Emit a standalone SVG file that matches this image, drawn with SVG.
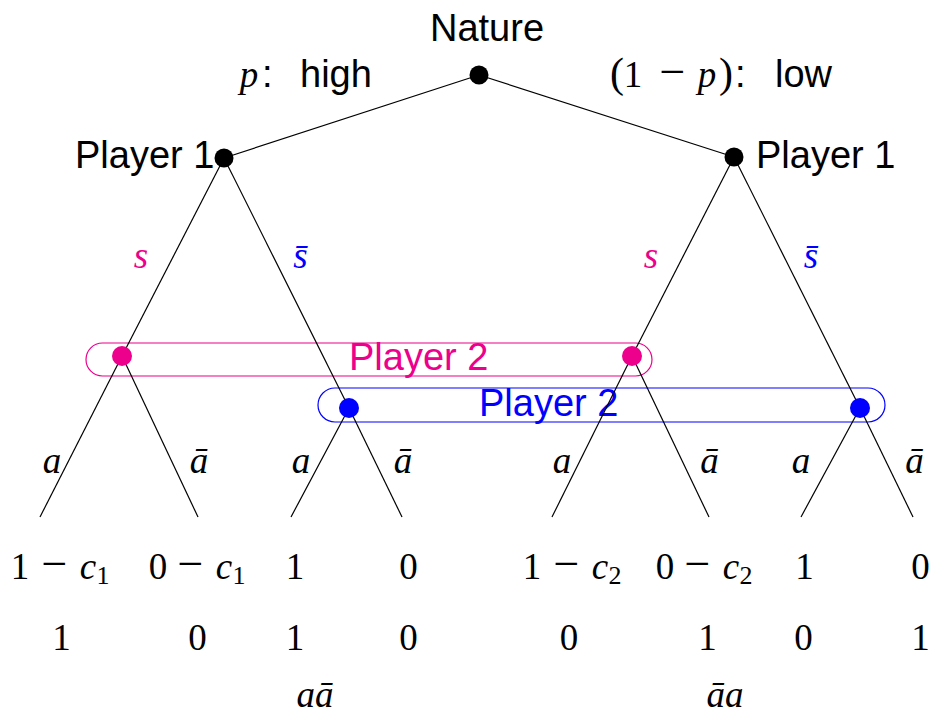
<svg xmlns="http://www.w3.org/2000/svg" width="930" height="716" viewBox="0 0 930 716">
<style>
.sans{font-family:"Liberation Sans","DejaVu Sans",sans-serif;font-size:38px;fill:#000}
.m{font-family:"Liberation Serif","DejaVu Serif",serif;font-size:37px;fill:#000}
.i{font-style:italic}
.sub{font-size:26px}
.op{font-size:46px}
.par{font-size:42px}
.edge{stroke:#000;stroke-width:1.2;fill:none}
.pink{fill:#EC008C}
.blue{fill:#0000FF}
.c{text-anchor:middle}
</style>
<rect width="930" height="716" fill="#fff"/>
<g id="infosets">
<rect x="86" y="343" width="566" height="33" rx="16.5" fill="none" stroke="#EC008C" stroke-width="1.2"/>
<rect x="318" y="388" width="567" height="34" rx="17" fill="none" stroke="#0000FF" stroke-width="1.2"/>
<text class="sans pink" x="349" y="370">Player 2</text>
<text class="sans blue" x="479" y="416">Player 2</text>
</g>
<g id="connectors" class="edge">
<line x1="479" y1="75" x2="224" y2="158"/>
<line x1="479" y1="75" x2="734" y2="157"/>
<line x1="224" y1="158" x2="122" y2="356"/>
<line x1="224" y1="158" x2="349" y2="408"/>
<line x1="734" y1="157" x2="632" y2="356"/>
<line x1="734" y1="157" x2="860" y2="408"/>
<line x1="122" y1="356" x2="40" y2="517"/>
<line x1="122" y1="356" x2="198" y2="517"/>
<line x1="349" y1="408" x2="291" y2="517"/>
<line x1="349" y1="408" x2="402" y2="517"/>
<line x1="632" y1="356" x2="552" y2="517"/>
<line x1="632" y1="356" x2="709" y2="517"/>
<line x1="860" y1="408" x2="801" y2="517"/>
<line x1="860" y1="408" x2="913" y2="517"/>
</g>
<g id="edge-labels">
<text class="m"><tspan class="i c" x="249" y="87">p</tspan></text>
<text class="sans" y="87"><tspan x="262">:</tspan><tspan x="300">high</tspan></text>
<text class="m" y="87"><tspan class="c par" x="617">(</tspan><tspan class="c" x="633">1</tspan><tspan class="c op" x="672.5">−</tspan><tspan class="i c" x="707">p</tspan><tspan class="c par" x="726">)</tspan></text>
<text class="sans" y="87"><tspan x="735">:</tspan><tspan x="775">low</tspan></text>
<text class="m i c pink" x="141" y="268">s</text>
<text class="m i c blue" x="300.5" y="268">s̄</text>
<text class="m i c pink" x="651" y="268">s</text>
<text class="m i c blue" x="811" y="268">s̄</text>
<text class="m i c" x="52" y="473">a</text>
<text class="m i c" x="199" y="473">ā</text>
<text class="m i c" x="301" y="473">a</text>
<text class="m i c" x="403" y="473">ā</text>
<text class="m i c" x="562" y="473">a</text>
<text class="m i c" x="709.5" y="473">ā</text>
<text class="m i c" x="801" y="473">a</text>
<text class="m i c" x="914.5" y="473">ā</text>
</g>
<g id="nature">
<text class="sans c" x="487" y="41">Nature</text>
<circle cx="479" cy="75" r="9.5" fill="#000"/>
</g>
<g id="player1-high">
<text class="sans" x="75" y="168">Player 1</text>
<circle cx="224" cy="158" r="9.5" fill="#000"/>
</g>
<g id="player1-low">
<text class="sans" x="756" y="168">Player 1</text>
<circle cx="734" cy="157" r="9.5" fill="#000"/>
</g>
<g id="player2-high-s"><circle cx="122" cy="356" r="10" fill="#EC008C"/></g>
<g id="player2-low-s"><circle cx="632" cy="356" r="10" fill="#EC008C"/></g>
<g id="player2-high-sbar"><circle cx="349" cy="408" r="10" fill="#0000FF"/></g>
<g id="player2-low-sbar"><circle cx="860" cy="408" r="10" fill="#0000FF"/></g>
<g id="payoffs">
<text class="m" y="579"><tspan class="c" x="20">1</tspan><tspan class="c op" x="54.5">−</tspan><tspan class="i c" x="88">c</tspan><tspan class="sub c" x="103" dy="5">1</tspan></text>
<text class="m" y="579"><tspan class="c" x="158">0</tspan><tspan class="c op" x="190.5">−</tspan><tspan class="i c" x="224">c</tspan><tspan class="sub c" x="239" dy="5">1</tspan></text>
<text class="m c" x="295" y="579">1</text>
<text class="m c" x="408.5" y="579">0</text>
<text class="m" y="579"><tspan class="c" x="532">1</tspan><tspan class="c op" x="566.5">−</tspan><tspan class="i c" x="600">c</tspan><tspan class="sub c" x="615" dy="5">2</tspan></text>
<text class="m" y="579"><tspan class="c" x="665">0</tspan><tspan class="c op" x="697.5">−</tspan><tspan class="i c" x="731">c</tspan><tspan class="sub c" x="746" dy="5">2</tspan></text>
<text class="m c" x="804.5" y="579">1</text>
<text class="m c" x="920.5" y="579">0</text>
<text class="m c" x="61.5" y="650">1</text>
<text class="m c" x="197.5" y="650">0</text>
<text class="m c" x="295" y="650">1</text>
<text class="m c" x="408.5" y="650">0</text>
<text class="m c" x="569" y="650">0</text>
<text class="m c" x="707.5" y="650">1</text>
<text class="m c" x="803.5" y="650">0</text>
<text class="m c" x="920.5" y="650">1</text>
<text class="m i c" x="315" y="707">aā</text>
<text class="m i c" x="725" y="707">āa</text>
</g>
</svg>
